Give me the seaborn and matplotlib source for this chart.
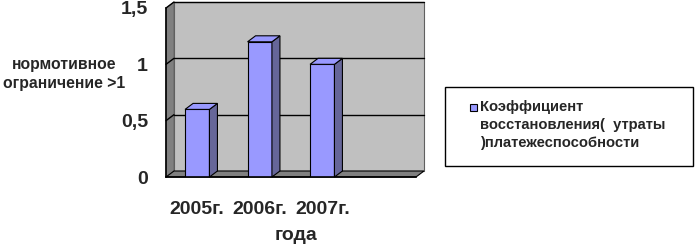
import matplotlib
matplotlib.use("Agg")
import matplotlib.pyplot as plt
import seaborn as sns
import pandas as pd
from matplotlib.patches import Polygon, Rectangle

categories = ["2005г.", "2006г.", "2007г.", " "]
years = ["2005г.", "2006г.", "2007г."]
values = [0.6, 1.2, 1.0]
yticks = [0, 0.5, 1, 1.5]
ytick_labels = ["0", "0,5", "1", "1,5"]
series_name = "Коэффициент\nвосстановления(  утраты\n)платежеспособности"
ylabel = "нормотивное\nограничение >1"
xlabel = "года"

sns.set_style("white")
plt.rcParams['font.family'] = ['Liberation Sans', 'DejaVu Sans']

W, H = 696, 244
fig = plt.figure(figsize=(W / 100, H / 100), dpi=100)
fig.patch.set_facecolor("white")
ax = fig.add_axes([166 / W, 1 - 177 / H, 250 / W, 169 / H])

df = pd.DataFrame({"year": years, "value": values})
sns.barplot(data=df, x="year", y="value", order=categories, color="#9999FF",
            width=0.39, edgecolor="black", linewidth=0.8, saturation=1,
            ax=ax, zorder=3)

ax.set_xlim(-0.5, 3.5)
ax.set_ylim(0, 1.5)
dx = 8 / (250 / 4)
dy = 6 / (169 / 1.5)

wall = "#C0C0C0"
dark = "#808080"
# back wall
ax.add_patch(Rectangle((-0.5 + dx, dy), 4, 1.5, facecolor=wall, edgecolor="#606060",
                       linewidth=0.8, zorder=0, clip_on=False))
# left wall
ax.add_patch(Polygon([(-0.5, 0), (-0.5 + dx, dy), (-0.5 + dx, 1.5 + dy), (-0.5, 1.5)],
                     closed=True, facecolor=dark, edgecolor="#606060", linewidth=0.6,
                     zorder=0.5, clip_on=False))
# floor
ax.add_patch(Polygon([(-0.5, 0), (3.5, 0), (3.5 + dx, dy), (-0.5 + dx, dy)],
                     closed=True, facecolor=dark, edgecolor="black", linewidth=0.8,
                     zorder=0.5, clip_on=False))
# gridlines
for t in yticks[1:]:
    ax.plot([-0.5 + dx, 3.5 + dx], [t + dy, t + dy], color="black", lw=1, zorder=1,
            clip_on=False)
    ax.plot([-0.5, -0.5 + dx], [t, t + dy], color="black", lw=1, zorder=1, clip_on=False)

# 3D faces of bars
for p in ax.patches:
    if not isinstance(p, Rectangle) or p.get_zorder() != 3:
        continue
    x0, w, h = p.get_x(), p.get_width(), p.get_height()
    if h <= 0:
        continue
    ax.add_patch(Polygon([(x0 + w, 0), (x0 + w + dx, dy), (x0 + w + dx, h + dy), (x0 + w, h)],
                         closed=True, facecolor="#666699", edgecolor="black",
                         linewidth=0.8, zorder=3, clip_on=False))
    ax.add_patch(Polygon([(x0, h), (x0 + w, h), (x0 + w + dx, h + dy), (x0 + dx, h + dy)],
                         closed=True, facecolor="#9999FF", edgecolor="black",
                         linewidth=0.8, zorder=3, clip_on=False))

for s in ["top", "right"]:
    ax.spines[s].set_visible(False)
for s in ["left", "bottom"]:
    ax.spines[s].set_color("black")
    ax.spines[s].set_linewidth(1.2)
    ax.spines[s].set_zorder(5)

ax.set_yticks(yticks)
ax.set_yticklabels(ytick_labels, fontsize=14, fontweight="bold")
ax.tick_params(axis="y", direction="out", length=4, width=1, color="black", pad=9)
ax.set_xticks(range(len(categories)))
ax.set_xticklabels(categories, fontsize=14, fontweight="bold")
ax.set_xticks([i - 0.5 for i in range(len(categories) + 1)], minor=True)
ax.tick_params(axis="x", which="major", length=0, pad=17)
ax.tick_params(axis="x", which="minor", direction="out", length=5, width=1, color="black")
ax.set_xlabel("")
ax.set_ylabel("")

fig.text(296 / W, 1 - 236 / H, xlabel, ha="center", va="center", fontsize=14,
         fontweight="bold")
fig.text(64 / W, 1 - 74 / H, ylabel, ha="center", va="center", fontsize=11.3,
         fontweight="bold", linespacing=1.3)

# legend
fig.patches.append(Rectangle((445 / W, 1 - 166 / H), 248 / W, 79 / H, transform=fig.transFigure,
                             facecolor="white", edgecolor="black", linewidth=1))
fig.patches.append(Rectangle((470 / W, 1 - 111 / H), 7 / W, 7 / H, transform=fig.transFigure,
                             facecolor="#9999FF", edgecolor="black", linewidth=0.8))
fig.text(480 / W, 1 - 100 / H, series_name, ha="left", va="top", fontsize=10.6,
         fontweight="bold", linespacing=1.35)

fig.savefig("out.png", dpi=100)
